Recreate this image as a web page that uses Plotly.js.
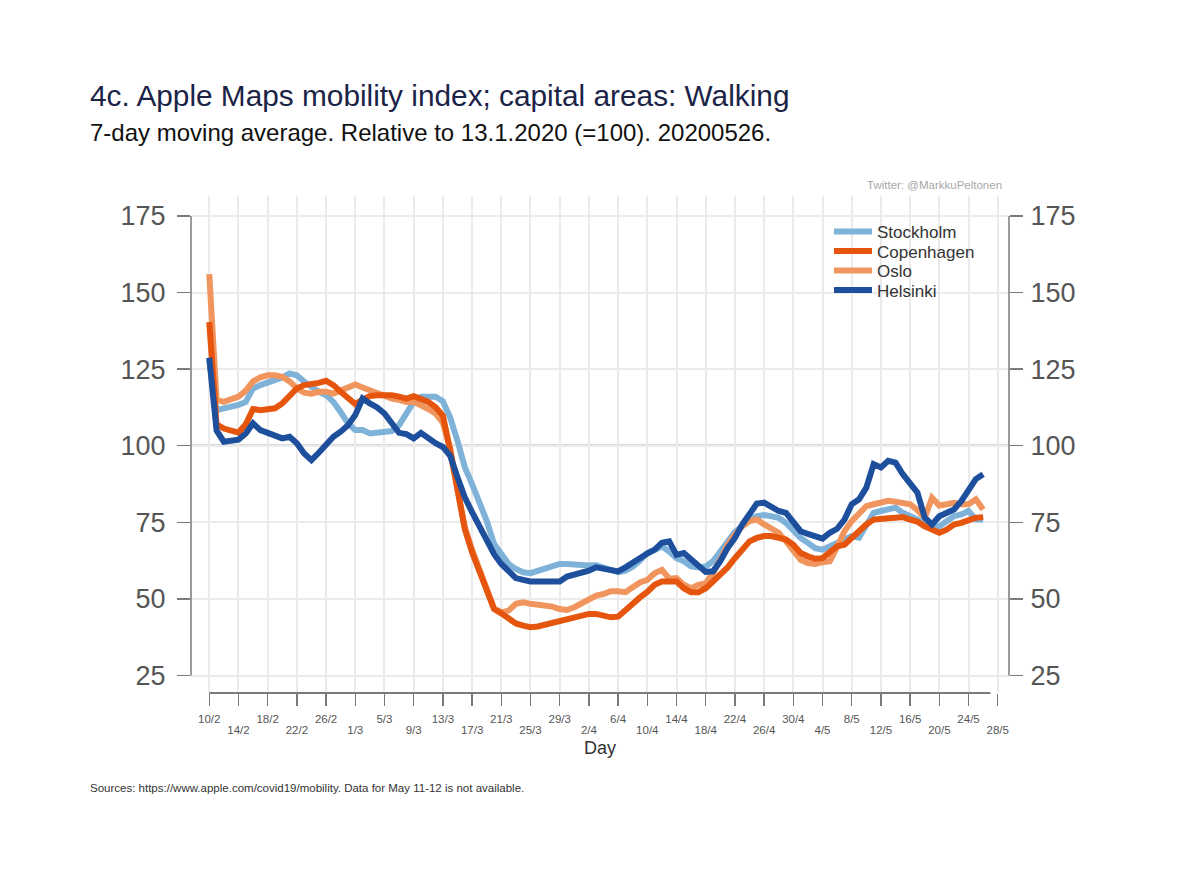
<!DOCTYPE html>
<html>
<head>
<meta charset="utf-8">
<script src="https://cdn.plot.ly/plotly-3.0.1.min.js"></script>
<style>html,body{margin:0;padding:0;background:#fff;}#chart{width:1200px;height:873px;}</style>
</head>
<body>
<div id="chart"></div>
<script>
// ---- Data (7-day moving average, 13.1.2020 = 100), daily from 10 Feb 2020 ----
const startDate = '2020-02-10';
const nDays = 107;

const stockholm = [128,111.6,112.2,112.7,113.3,114.3,118.7,119.8,120.5,121.2,122.3,123.6,123,120.9,119.2,117.6,116.5,114.3,111,107.3,105.1,105.1,104,104.3,104.6,104.8,106.7,110.5,114.3,116,116.2,116,114.5,109.2,101.6,93,87.5,82,75.5,68,64.7,61.4,59.8,58.7,58.4,59.2,59.8,60.9,61.4,61.4,61.2,60.9,60.9,61,60.3,59.2,58.7,59.2,60.5,62.5,65,66,67.2,65.5,63.3,62.3,60.6,60.3,60.6,62.3,65.5,69.4,71.9,73.7,75.9,77,77.4,77,76.5,74.8,72.1,69.9,68.3,66.6,66.1,67.2,68.3,69.9,70.5,70,74.3,78.1,78.7,79.2,79.8,78.1,77,75.9,74.8,73.7,73.7,75.4,77,77.6,78.7,75.9,75.9];

const copenhagen = [140.4,107,105.6,105,104.3,107,112,111.6,112,112.2,113.8,116.5,118.7,119.8,120.1,120.5,121.2,119.8,117.6,115.4,113.6,115,116.2,116.5,116.7,116.5,116,115.4,116.2,115.4,114.3,112.6,109.8,98.4,85.3,72.8,65.2,59.2,52.7,46.7,45.3,43.8,42,41.3,40.8,41,41.6,41.8,42.7,43.5,43.8,44.2,45.1,45.1,44.6,44,44.2,46.4,48.6,50.5,52.3,54.6,55.7,55.9,55.7,53.5,52.2,52.2,53.5,55.7,57.9,60.3,63.3,66.1,68.8,69.9,70.5,70.5,69.9,69.4,67.7,65,63.9,63.1,63.3,65,67.2,67.7,69.9,72.6,74.3,75.9,75.9,76.3,76.5,76.7,75.9,75.2,73.7,72.6,71.6,72.6,74.3,74.8,75.6,76.5,76.7];

const oslo = [156,115,114.3,115,116,118,121,122.3,123,123,122.5,121,118.7,117.3,117,117.6,117.6,117,118,119.5,120,119,118,117,116.5,115.4,115,114.3,114.3,113.3,112,110.5,107.5,99,86,73.5,66,60,53.5,47,45.6,46.2,48.4,48.9,48.4,48.2,47.8,47.5,46.7,46.4,47.3,48.6,50.3,51.1,51.6,52.5,52.5,52.2,53.8,55.4,56.2,58.4,59.5,56.6,56.8,54.6,53.5,54.6,55.1,58.4,62.8,67.7,71,73.7,75.4,75.9,74.3,73,71.6,68.8,65.5,62.8,61.7,61.4,62,62.3,67,72.1,75.4,78.1,80.3,80.9,81.4,82,81.7,81.1,80.9,79,76.5,83,80.5,80.9,81.4,80.9,80.9,82.5,79.2];

const helsinki = [128.7,105,101.3,101.8,102,104,107.3,105.1,104.2,103.5,102.4,102.9,100.8,97.5,95.3,97.7,100.2,102.9,104.6,106.7,110,115.4,113.8,112.5,110.5,107.3,104.2,103.8,102.4,104.2,102.4,100.8,99.6,96.7,89.7,83.2,78.3,73.4,69,64.7,61.4,59.2,56.8,56.2,55.7,55.7,55.7,55.7,55.7,57.3,57.8,58.7,59.2,60.3,59.8,59,59,60.3,62,63.6,64.8,66.1,68.3,68.8,64.4,65,62.8,60.6,58.8,59,62.3,66.6,69.9,74.3,78.1,81.1,81.4,79.8,78.7,78.1,75.4,72.1,71.2,70.5,69.7,71.6,72.9,75.9,80.9,82.5,86.3,94,92.9,95.1,94.5,90.7,88,84.7,76.5,74.3,77,78.1,79.2,81.9,85.2,89.1,90.7];

const tickDates = ['2020-02-10','2020-02-14','2020-02-18','2020-02-22','2020-02-26','2020-03-01','2020-03-05','2020-03-09','2020-03-13','2020-03-17','2020-03-21','2020-03-25','2020-03-29','2020-04-02','2020-04-06','2020-04-10','2020-04-14','2020-04-18','2020-04-22','2020-04-26','2020-04-30','2020-05-04','2020-05-08','2020-05-12','2020-05-16','2020-05-20','2020-05-24','2020-05-28'];
const tickLabels = ['10/2','14/2','18/2','22/2','26/2','1/3','5/3','9/3','13/3','17/3','21/3','25/3','29/3','2/4','6/4','10/4','14/4','18/4','22/4','26/4','30/4','4/5','8/5','12/5','16/5','20/5','24/5','28/5'];
const yTicks = [25, 50, 75, 100, 125, 150, 175];

// ---- build date axis ----
function addDays(iso, n) {
  const d = new Date(iso + 'T00:00:00Z');
  d.setUTCDate(d.getUTCDate() + n);
  return d.toISOString().slice(0, 10);
}
const dates = [];
for (let i = 0; i < nDays; i++) dates.push(addDays(startDate, i));

const FONT = 'Liberation Sans, Arial, Helvetica, sans-serif';
const colors = {Stockholm:'#7fb2d9', Copenhagen:'#e6550d', Oslo:'#f1955e', Helsinki:'#1d4f9d'};

function tr(name, ys, legendId, xa, ya) {
  return {
    type: 'scatter', mode: 'lines', name: name, x: dates, y: ys,
    xaxis: xa, yaxis: ya,
    line: {color: colors[name], width: 6},
    legend: legendId, hoverinfo: 'skip'
  };
}
const traces = [
  tr('Stockholm', stockholm, 'legend', 'x', 'y'),
  tr('Oslo', oslo, 'legend3', 'x', 'y'),
  tr('Copenhagen', copenhagen, 'legend2', 'x', 'y'),
  tr('Helsinki', helsinki, 'legend4', 'x2', 'y2')
];

const oddVals = [], oddText = [];
tickDates.forEach((d, i) => { if (i % 2 === 1) { oddVals.push(d); oddText.push(tickLabels[i]); } });
const allText = tickLabels.map((t, i) => i % 2 === 0 ? t : '');

const xRange = ['2020-02-07 12:00', '2020-05-29 13:00'];
const yRange = [19.3, 181.5];
const axisCol = '#7a7a7a';
const gridCol = '#ebebeb';

// legend rows (pixel centres in the reference): 232, 251, 271, 290
function leg(yc) {
  return {
    x: (829 - 191) / 818, y: (693 - yc) / 497, xanchor: 'left', yanchor: 'middle',
    bgcolor: 'rgba(0,0,0,0)', borderwidth: 0,
    font: {family: FONT, size: 17, color: '#333'}, itemwidth: 38
  };
}

const layout = {
  width: 1200, height: 873,
  margin: {l: 191, r: 191, t: 196, b: 180, pad: 0},
  paper_bgcolor: '#ffffff', plot_bgcolor: '#ffffff',
  font: {family: FONT, color: '#333'},
  showlegend: true,
  legend: leg(232), legend2: leg(251.5), legend3: leg(271), legend4: leg(290.5),
  xaxis: {
    type: 'date', range: xRange,
    tickmode: 'array', tickvals: tickDates, ticktext: allText,
    ticks: 'outside', ticklen: 12, tickwidth: 1.5, tickcolor: axisCol,
    showgrid: true, gridcolor: gridCol, gridwidth: 2,
    showline: false, zeroline: false,
    tickfont: {family: FONT, size: 11.5, color: '#555'}, tickangle: 0,
    ticklabelstandoff: 3
  },
  xaxis2: {
    type: 'date', range: xRange, overlaying: 'x', anchor: 'y', side: 'bottom',
    tickmode: 'array', tickvals: oddVals, ticktext: oddText,
    ticks: 'outside', ticklen: 12, tickwidth: 0, tickcolor: 'rgba(0,0,0,0)',
    showgrid: false, showline: false, zeroline: false,
    tickfont: {family: FONT, size: 11.5, color: '#555'}, tickangle: 0,
    ticklabelstandoff: 14
  },
  yaxis: {
    range: yRange, tickmode: 'array', tickvals: yTicks,
    ticks: 'outside', ticklen: 13, tickwidth: 1.5, tickcolor: axisCol,
    showgrid: true, gridcolor: gridCol, gridwidth: 2,
    showline: false, zeroline: false,
    tickfont: {family: FONT, size: 27, color: '#555'},
    ticklabelstandoff: 6
  },
  yaxis2: {
    range: yRange, overlaying: 'y', side: 'right', anchor: 'x',
    tickmode: 'array', tickvals: yTicks,
    ticks: 'outside', ticklen: 13, tickwidth: 1.5, tickcolor: axisCol,
    showgrid: false, showline: false, zeroline: false,
    tickfont: {family: FONT, size: 27, color: '#555'},
    ticklabelstandoff: 2
  },
  shapes: [
    {type: 'rect', xref: 'paper', yref: 'paper',
     x0: (813 - 191) / 818, x1: (1000 - 191) / 818, y0: (693 - 313) / 497, y1: (693 - 205) / 497,
     fillcolor: '#ffffff', line: {width: 0}, layer: 'between'},
    {type: 'line', xref: 'paper', yref: 'y', x0: 0, x1: 1, y0: 100, y1: 100,
     line: {color: '#6b6b6b', width: 2}, layer: 'between'},
    {type: 'line', xref: 'paper', yref: 'y', x0: 0, x1: 0, y0: 25, y1: 175,
     line: {color: axisCol, width: 1.5}, layer: 'above'},
    {type: 'line', xref: 'paper', yref: 'y', x0: 1, x1: 1, y0: 25, y1: 175,
     line: {color: axisCol, width: 1.5}, layer: 'above'},
    {type: 'line', xref: 'x', yref: 'paper', x0: '2020-02-10', x1: '2020-05-27', y0: 0, y1: 0,
     line: {color: axisCol, width: 2}, layer: 'above'}
  ],
  annotations: [
    {text: '4c. Apple Maps mobility index; capital areas: Walking', xref: 'paper', yref: 'paper',
     x: -0.1259, y: 1.2032, xanchor: 'left', yanchor: 'middle', showarrow: false,
     font: {family: FONT, size: 29.8, color: '#1b2447'}},
    {text: '7-day moving average. Relative to 13.1.2020 (=100). 20200526.', xref: 'paper', yref: 'paper',
     x: -0.1259, y: 1.1268, xanchor: 'left', yanchor: 'middle', showarrow: false,
     font: {family: FONT, size: 24, color: '#111'}},
    {text: 'Twitter: @MarkkuPeltonen', xref: 'paper', yref: 'paper',
     x: 0.9939, y: 1.0221, xanchor: 'right', yanchor: 'middle', showarrow: false,
     font: {family: FONT, size: 11.5, color: '#a8a8a8'}},
    {text: 'Day', xref: 'paper', yref: 'paper',
     x: 0.5, y: -0.1107, xanchor: 'center', yanchor: 'middle', showarrow: false,
     font: {family: FONT, size: 18, color: '#333'}},
    {text: 'Sources: https://www.apple.com/covid19/mobility. Data for May 11-12 is not available.', xref: 'paper', yref: 'paper',
     x: -0.1259, y: -0.1911, xanchor: 'left', yanchor: 'middle', showarrow: false,
     font: {family: FONT, size: 11.5, color: '#333'}}
  ]
};

Plotly.newPlot('chart', traces, layout, {displayModeBar: false, staticPlot: true});
</script>
</body>
</html>
